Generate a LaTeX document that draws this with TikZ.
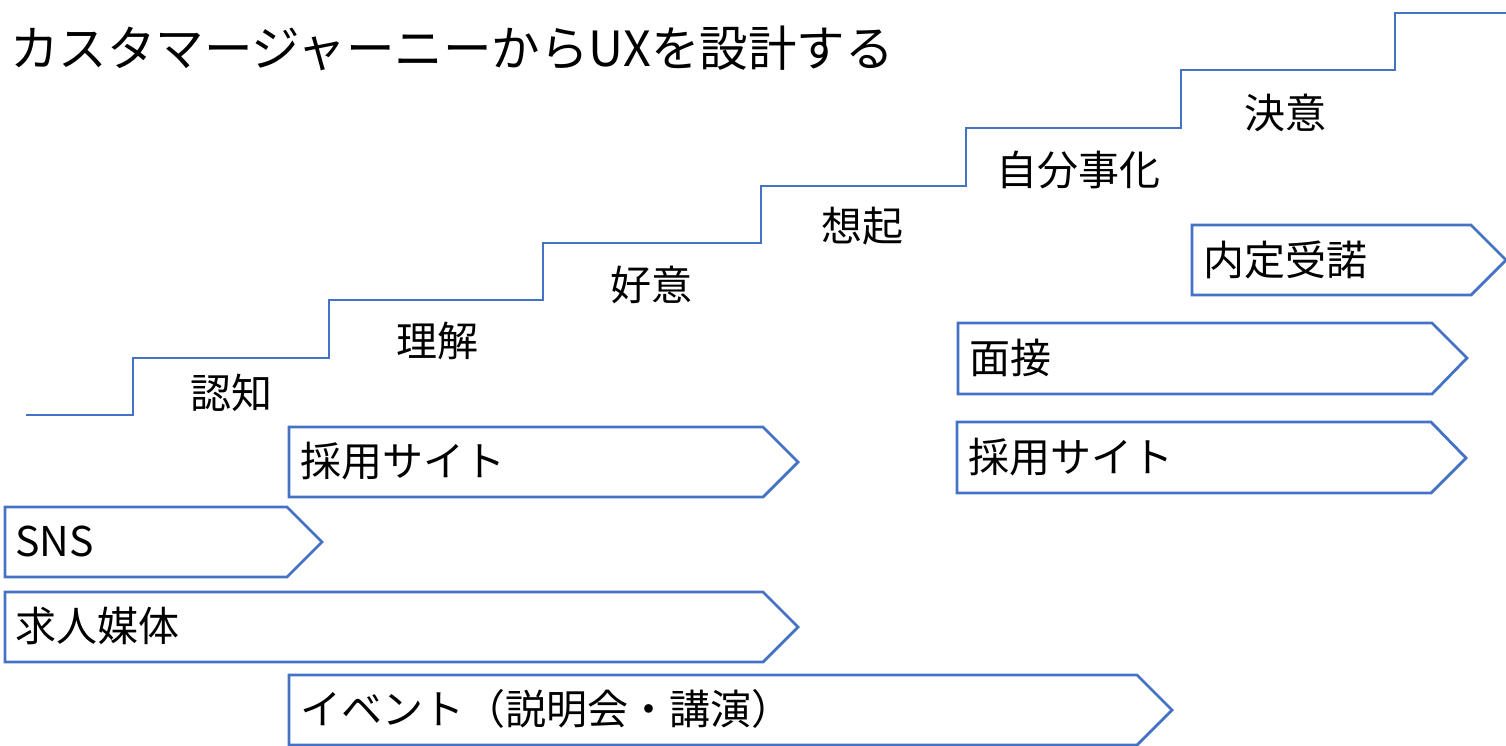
\documentclass[tikz,border=0pt]{standalone}
\usepackage{fontspec}
\setmainfont{Noto Sans CJK JP}
\definecolor{stairblue}{HTML}{4472C4}
\tikzset{
  stairline/.style={draw=stairblue, line width=2.8pt, line join=miter},
  arrowbox/.style={draw=stairblue, line width=2.8pt, line join=miter},
  lbl/.style={inner sep=0pt, font=\fontsize{41}{41}\selectfont, text=black},
  boxtext/.style={inner sep=0pt, anchor=west, font=\fontsize{41}{41}\selectfont, text=black},
  titletext/.style={inner sep=0pt, anchor=west, font=\fontsize{48.5}{48.5}\selectfont, text=black}
}
\begin{document}
\begin{tikzpicture}[x=1pt,y=-1pt]
\useasboundingbox (0,0) rectangle (1506,745);
% title
\node[titletext] (title) at (10,48) {カスタマージャーニーからUXを設計する};
% staircase
\draw[stairline] (26,415) -- (133,415) -- (133,358) -- (329,358) -- (329,300) -- (543,300)
  -- (543,243) -- (761,243) -- (761,186) -- (966,186) -- (966,128) -- (1181,128)
  -- (1181,70) -- (1395,70) -- (1395,13) -- (1510,13);
% stage labels
\node[lbl] (s1) at (231,393) {認知};
\node[lbl] (s2) at (437,341) {理解};
\node[lbl] (s3) at (651,285) {好意};
\node[lbl] (s4) at (862,226) {想起};
\node[lbl] (s5) at (1078,170) {自分事化};
\node[lbl] (s6) at (1285,113) {決意};
% arrow boxes
\draw[arrowbox] (1192,225) -- (1471,225) -- (1506,260) -- (1471,295) -- (1192,295) -- cycle;
\node[boxtext] (b1) at (1203,260) {内定受諾};
\draw[arrowbox] (958,323) -- (1432,323) -- (1467,358) -- (1432,394) -- (958,394) -- cycle;
\node[boxtext] (b2) at (969,358) {面接};
\draw[arrowbox] (957,422) -- (1431,422) -- (1466,458) -- (1431,493) -- (957,493) -- cycle;
\node[boxtext] (b3) at (968,457) {採用サイト};
\draw[arrowbox] (289,427) -- (763,427) -- (798,462) -- (763,497) -- (289,497) -- cycle;
\node[boxtext] (b4) at (300,461) {採用サイト};
\draw[arrowbox] (5,507) -- (287,507) -- (322,542) -- (287,577) -- (5,577) -- cycle;
\node[boxtext] (b5) at (15,541) {SNS};
\draw[arrowbox] (5,592) -- (763,592) -- (798,627) -- (763,662) -- (5,662) -- cycle;
\node[boxtext] (b6) at (15,626) {求人媒体};
\draw[arrowbox] (289,675) -- (1137,675) -- (1172,710) -- (1137,745) -- (289,745) -- cycle;
\node[boxtext] (b7) at (300,709) {イベント（説明会・講演）};
\end{tikzpicture}
\end{document}
